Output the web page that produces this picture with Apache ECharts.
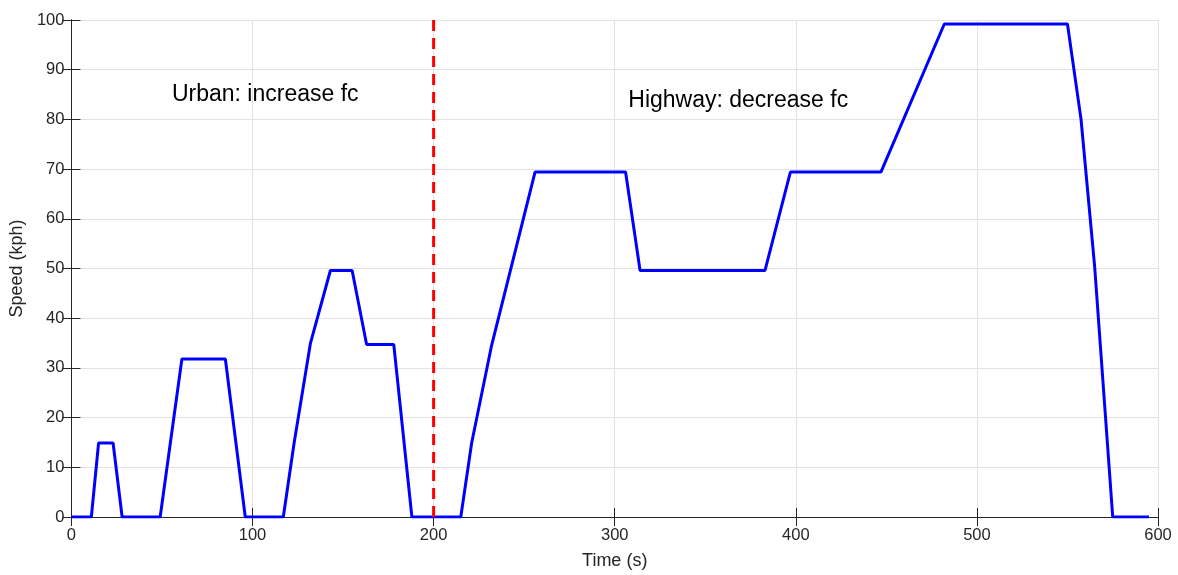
<!DOCTYPE html>
<html>
<head>
<meta charset="utf-8">
<script src="https://cdn.jsdelivr.net/npm/echarts@6/dist/echarts.min.js"></script>
<style>html,body{margin:0;padding:0;background:#fff}#c{width:1178px;height:575px}</style>
</head>
<body>
<div id="c"></div>
<script>
const times  = [0, 11, 15, 23, 28, 49, 61, 85, 96, 117, 123, 132, 143, 155, 163, 178, 188, 215, 221, 232, 256, 306, 314, 383, 397, 447, 482, 550, 557.5, 565, 575, 595];
const speeds = [0, 0, 14.9, 14.9, 0, 0, 31.8, 31.8, 0, 0, 15, 35, 49.6, 49.6, 34.7, 34.7, 0, 0, 14.9, 34.5, 69.4, 69.4, 49.6, 49.6, 69.4, 69.4, 99.2, 99.2, 80, 50.5, 0, 0];
const dividerTime = 200;
const dividerRange = [0, 100];
const xTicks = [0, 100, 200, 300, 400, 500, 600];
const yTicks = [0, 10, 20, 30, 40, 50, 60, 70, 80, 90, 100];
const labelUrban = 'Urban: increase fc';
const labelHighway = 'Highway: decrease fc';

const font = '"Liberation Sans", Arial, Helvetica, sans-serif';
const axisColor = '#262626';
const chart = echarts.init(document.getElementById('c'), null, {renderer: 'canvas'});

const baseAxisLine = {show: true, lineStyle: {color: axisColor, width: 1}};
const tick = {show: true, inside: true, length: 9, lineStyle: {color: axisColor, width: 1}};

chart.setOption({
  animation: false,
  backgroundColor: '#fff',
  grid: {left: 70, right: 20, top: 20, bottom: 52, containLabel: false},
  xAxis: [{
    type: 'value', min: xTicks[0], max: xTicks[xTicks.length - 1], interval: 100,
    position: 'bottom',
    name: 'Time (s)', nameLocation: 'middle', nameGap: 35,
    nameTextStyle: {color: axisColor, fontSize: 18, fontFamily: font},
    axisLine: baseAxisLine, axisTick: tick,
    axisLabel: {color: axisColor, fontSize: 16.5, fontFamily: font, margin: 10},
    splitLine: {show: true, lineStyle: {color: '#e2e2e2', width: 1}}
  }, {
    type: 'value', min: 0, max: 600, interval: 100, position: 'top',
    axisLine: baseAxisLine, axisTick: tick, axisLabel: {show: false}, splitLine: {show: false}
  }],
  yAxis: [{
    type: 'value', min: yTicks[0], max: yTicks[yTicks.length - 1], interval: 10,
    position: 'left',
    name: 'Speed (kph)', nameLocation: 'middle', nameGap: 38,
    nameTextStyle: {color: axisColor, fontSize: 18, fontFamily: font},
    axisLine: baseAxisLine, axisTick: tick,
    axisLabel: {color: axisColor, fontSize: 16.5, fontFamily: font, margin: 7},
    splitLine: {show: true, lineStyle: {color: '#e2e2e2', width: 1}}
  }, {
    type: 'value', min: 0, max: 100, interval: 10, position: 'right',
    axisLine: baseAxisLine, axisTick: tick, axisLabel: {show: false}, splitLine: {show: false}
  }],
  series: [{
    type: 'line',
    data: times.map((t, i) => [t, speeds[i]]),
    symbol: 'none',
    lineStyle: {color: '#0000ff', width: 3},
    z: 3
  }, {
    type: 'line',
    data: dividerRange.map(v => [dividerTime, v]),
    symbol: 'none',
    lineStyle: {color: '#ff0000', width: 3, type: [11, 7]},
    z: 4
  }]
});

const pU = chart.convertToPixel({xAxisIndex: 0, yAxisIndex: 0}, [55.5, 87.3]);
const pH = chart.convertToPixel({xAxisIndex: 0, yAxisIndex: 0}, [307.5, 86.1]);
chart.setOption({
  graphic: [
    {type: 'text', left: pU[0], top: pU[1], style: {text: labelUrban, fontSize: 23, fontFamily: font, fill: '#000'}},
    {type: 'text', left: pH[0], top: pH[1], style: {text: labelHighway, fontSize: 23, fontFamily: font, fill: '#000'}}
  ]
});
</script>
</body>
</html>
